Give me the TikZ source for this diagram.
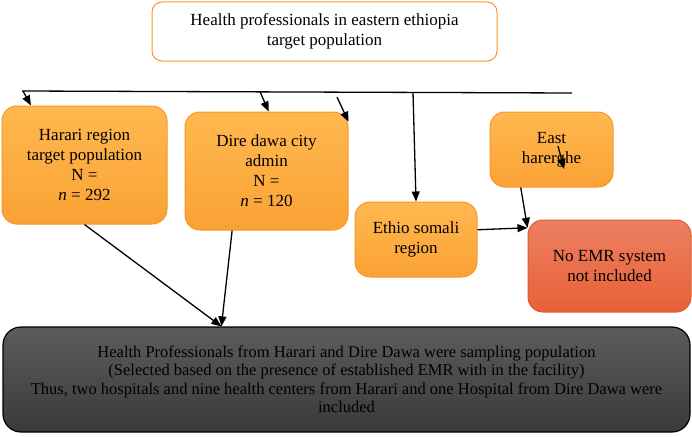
\documentclass[tikz,border=0pt]{standalone}
\usepackage{fontspec}
\setmainfont{Liberation Serif}
\usepackage{tikz}
\usetikzlibrary{arrows.meta,shapes,positioning}

\definecolor{orangeline}{RGB}{247,150,40}
\definecolor{orangetop}{RGB}{255,184,80}
\definecolor{orangebot}{RGB}{250,162,52}
\definecolor{redline}{RGB}{226,88,44}
\definecolor{redtop}{RGB}{236,128,96}
\definecolor{redbot}{RGB}{232,96,56}
\definecolor{graytop}{RGB}{92,92,92}
\definecolor{graybot}{RGB}{58,58,58}

\tikzset{
  popbox/.style={draw=orangeline, fill=white, line width=1pt, rounded corners=10pt,
    align=center, font=\fontsize{17}{20}\selectfont},
  regionbox/.style={draw=orangeline, top color=orangetop, bottom color=orangebot,
    line width=1pt, rounded corners=15pt, align=center, font=\fontsize{17}{20}\selectfont},
  noemrbox/.style={draw=redline, top color=redtop, bottom color=redbot,
    line width=1pt, rounded corners=15pt, align=center, font=\fontsize{17}{20}\selectfont},
  samplebox/.style={draw=black, top color=graytop, bottom color=graybot,
    line width=1.2pt, rounded corners=18pt, align=center, font=\fontsize{16.5}{18.5}\selectfont}
}

\begin{document}
\begin{tikzpicture}[x=1pt,y=-1pt]
\useasboundingbox (0,0) rectangle (692,436);
%the target population
    \node[popbox, minimum width=345pt, minimum height=59pt] (pop) at (324.5,31.5)
      {Health professionals in eastern ethiopia\\target population};

%the regions
    \node[regionbox, minimum width=165pt, minimum height=118pt] (harari) at (84.5,165)
      {Harari region\\target population\\N =\\\textit{n} = 292};
    \node[regionbox, minimum width=163pt, minimum height=118pt] (dire) at (266.5,171)
      {Dire dawa city\\admin\\N =\\\textit{n} = 120};
    \node[regionbox, minimum width=122pt, minimum height=75pt] (ethio) at (416,239.5)
      {Ethio somali\\region};
    \node[regionbox, minimum width=123pt, minimum height=75pt] (east) at (551.5,149.5)
      {East\\harerghe};
    \node[noemrbox, minimum width=163pt, minimum height=92pt] (noemr) at (609.5,266)
      {No EMR system\\not included};

%the sampling population
    \node[samplebox, minimum width=687pt, minimum height=105pt] (sample) at (346.5,379.5)
      {Health Professionals from Harari and Dire Dawa were sampling population\\
       (Selected based on the presence of established EMR with in the facility)\\
       Thus, two hospitals and nine health centers from Harari and one Hospital from Dire Dawa were\\
       included};

%the branching line
    \coordinate (l0) at (22,91);
    \coordinate (l1) at (572,93);
    \coordinate (t1) at (23,91);
    \coordinate (t2) at (260,91.5);
    \coordinate (t3) at (337,97);
    \coordinate (t4) at (413,92);
    \coordinate (s1) at (558,146);
    \coordinate (s2) at (564,169);
    \draw[line width=1.3pt] (l0) -- (l1);

%the arrows
    \begin{scope}[every path/.style={line width=1.3pt, -{Triangle[length=10pt,width=8pt]}}]
       \draw (t1) -- (harari.132);
       \draw (t2) -- (dire.88);
       \draw (t3) -- (dire.31);
       \draw (t4) -- (ethio.north);
       \draw (s1) -- (s2);
       \draw (harari.south) -- (sample.157.5);
       \draw (dire.240) -- (sample.157.5);
       \draw (ethio.9) -- (noemr.155);
       \draw (east.231) -- (noemr.155);
    \end{scope}
\end{tikzpicture}
\end{document}
